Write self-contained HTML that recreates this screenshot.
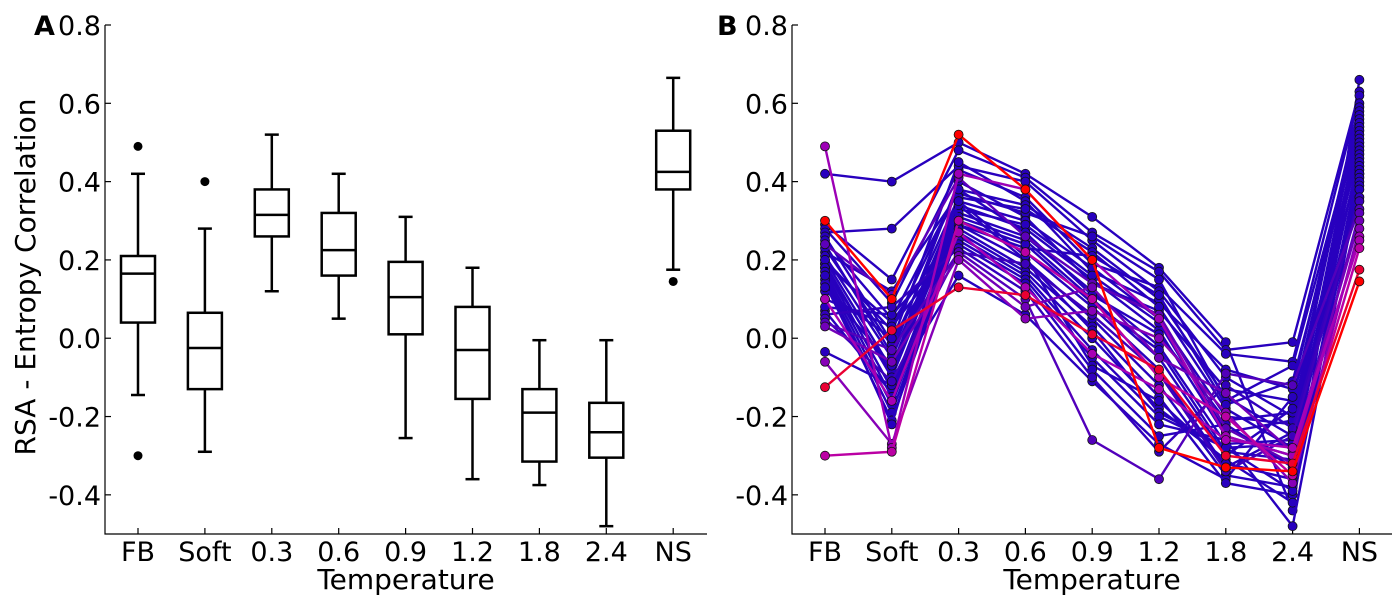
<!DOCTYPE html>
<html><head><meta charset="utf-8"><style>
html,body{margin:0;padding:0;background:#fff;}
svg{display:block;font-family:"DejaVu Sans","Liberation Sans",sans-serif;}
</style></head><body>
<svg id="chart" width="1400" height="600" viewBox="0 0 1400 600" xmlns="http://www.w3.org/2000/svg"></svg>
<script>
const categories = ["FB","Soft","0.3","0.6","0.9","1.2","1.8","2.4","NS"];
const yTicks = [0.8,0.6,0.4,0.2,0.0,-0.2,-0.4];
const yTickLabels = ["0.8","0.6","0.4","0.2","0.0","-0.2","-0.4"];
const boxLow = [-0.145,-0.29,0.12,0.05,-0.255,-0.36,-0.375,-0.48,0.175];
const boxQ1 = [0.04,-0.13,0.26,0.16,0.01,-0.155,-0.315,-0.305,0.38];
const boxMed = [0.165,-0.025,0.315,0.225,0.105,-0.03,-0.19,-0.24,0.425];
const boxQ3 = [0.21,0.065,0.38,0.32,0.195,0.08,-0.13,-0.165,0.53];
const boxHigh = [0.42,0.28,0.52,0.42,0.31,0.18,-0.005,-0.005,0.665];
const outlierCat = [0,0,1,8];
const outlierVal = [0.49,-0.30,0.40,0.145];
const subjects = [
[0.42,0.40,0.50,0.42,0.31,0.18,-0.01,-0.44,0.66],
[0.49,-0.28,0.42,0.38,0.20,0.05,-0.25,-0.30,0.26],
[-0.30,-0.29,0.30,0.22,0.10,-0.10,-0.20,-0.35,0.23],
[0.30,0.10,0.52,0.38,0.20,-0.28,-0.33,-0.34,0.145],
[-0.125,0.02,0.13,0.11,0.01,-0.08,-0.30,-0.32,0.175],
[0.29,0.15,0.48,0.41,0.27,0.17,-0.03,-0.01,0.63],
[0.27,0.28,0.44,0.40,0.25,0.12,-0.10,-0.20,0.60],
[0.25,0.05,0.38,0.34,0.23,0.10,-0.15,-0.25,0.58],
[0.23,-0.02,0.36,0.33,0.22,0.08,-0.18,-0.28,0.55],
[0.21,-0.05,0.35,0.30,0.18,0.05,-0.20,-0.22,0.53],
[0.20,-0.08,0.34,0.28,0.15,0.02,-0.25,-0.30,0.52],
[0.19,-0.10,0.32,0.26,0.12,-0.02,-0.27,-0.26,0.50],
[0.18,-0.13,0.31,0.25,0.10,-0.05,-0.30,-0.18,0.48],
[0.17,-0.15,0.30,0.22,0.08,-0.08,-0.33,-0.24,0.46],
[0.16,-0.17,0.29,0.20,0.05,-0.12,-0.35,-0.38,0.45],
[0.15,-0.19,0.28,0.18,0.03,-0.15,-0.37,-0.40,0.43],
[0.14,-0.21,0.27,0.17,0.00,-0.18,-0.31,-0.42,0.42],
[0.12,0.00,0.26,0.16,-0.03,-0.20,-0.28,-0.27,0.41],
[0.10,0.03,0.25,0.15,-0.05,-0.22,-0.26,-0.48,0.40],
[0.08,0.06,0.24,0.14,-0.08,-0.25,-0.22,-0.33,0.38],
[0.06,0.08,0.23,0.12,-0.10,-0.29,-0.12,-0.23,0.36],
[0.04,-0.03,0.22,0.10,-0.26,-0.36,-0.09,-0.12,0.33],
[0.03,-0.06,0.21,0.08,0.13,-0.05,-0.14,-0.29,0.30],
[-0.035,-0.12,0.16,0.06,-0.11,-0.27,-0.36,-0.15,0.44],
[-0.06,-0.27,0.20,0.05,0.07,0.00,-0.19,-0.37,0.28],
[0.22,0.12,0.37,0.32,0.26,0.15,-0.16,-0.07,0.56],
[0.28,0.09,0.43,0.36,0.19,0.13,-0.04,-0.06,0.62],
[0.26,-0.01,0.45,0.35,0.17,0.09,-0.08,-0.13,0.59],
[0.24,-0.04,0.40,0.31,0.14,0.07,-0.13,-0.16,0.57],
[0.18,-0.09,0.33,0.29,0.16,0.04,-0.24,-0.21,0.51],
[0.20,0.02,0.38,0.27,0.11,0.01,-0.21,-0.19,0.49],
[0.07,-0.14,0.30,0.24,0.09,-0.03,-0.29,-0.31,0.47],
[0.13,-0.07,0.35,0.21,-0.07,-0.16,-0.32,-0.36,0.39],
[0.05,-0.11,0.22,0.19,0.06,-0.09,-0.34,-0.25,0.35],
[0.19,0.04,0.29,0.23,0.21,0.11,-0.17,-0.11,0.54],
[0.10,-0.16,0.27,0.13,-0.04,-0.13,-0.26,-0.28,0.25],
[0.24,0.11,0.41,0.26,0.14,0.06,-0.23,-0.32,0.32],
[0.16,-0.22,0.34,0.20,0.02,-0.19,-0.28,-0.39,0.42]
];

const NS="http://www.w3.org/2000/svg";
const svg=document.getElementById('chart');
function mk(tag,attrs,parent,text){const e=document.createElementNS(NS,tag);for(const k in attrs)e.setAttribute(k,attrs[k]);if(text!==undefined)e.textContent=text;(parent||svg).appendChild(e);return e;}
const yTop=25,yBot=534,vTop=0.8,vBot=-0.5;
function yS(v){return yTop+(vTop-v)/(vTop-vBot)*(yBot-yTop);}
const panels=[{x0:105,x1:707,first:138,step:66.9,letter:"A",id:"a",lx:34},{x0:792,x1:1392,first:825,step:66.8,letter:"B",id:"b",lx:717}];
function xS(p,i){return p.first+i*p.step;}

panels.forEach(p=>{
  const g=mk('g',{});
  
  
  const ax=mk('path',{d:`M${p.x0},${yTop}V${yBot}H${p.x1}`,fill:'none',stroke:'#000','stroke-width':1.2},g);
  
  
  yTicks.forEach((v,i)=>{
    const y=yS(v);
    const t=mk('line',{x1:p.x0,x2:p.x0+6,y1:y,y2:y,stroke:'#000','stroke-width':1.2},g);
    
    
    const l=mk('text',{x:p.x0-4,y:y+10,'text-anchor':'end','font-size':27},g,yTickLabels[i]);
    
    
  });
  categories.forEach((c,i)=>{
    const x=xS(p,i);
    const t=mk('line',{x1:x,x2:x,y1:yBot,y2:yBot-6,stroke:'#000','stroke-width':1.2},g);
    
    
    const l=mk('text',{x:x,y:561,'text-anchor':'middle','font-size':27},g,c);
    
    
  });
  const xt=mk('text',{x:(p.x0+p.x1)/2,y:589,'text-anchor':'middle','font-size':28},g,'Temperature');
  
  
  const lt=mk('text',{x:p.lx,y:35,'font-size':27,'font-weight':'bold'},g,p.letter);
  
  
});

const yt=mk('text',{x:0,y:0,'text-anchor':'middle','font-size':28,transform:`translate(35,277) rotate(-90)`},svg,'RSA - Entropy Correlation');



const pA=panels[0];
categories.forEach((c,i)=>{
  const x=xS(pA,i),w=34,cap=14;
  const g=mk('g',{stroke:'#000','stroke-width':2.5,fill:'none'});
  
  
  mk('rect',{x:x-w/2,y:yS(boxQ3[i]),width:w,height:yS(boxQ1[i])-yS(boxQ3[i])},g);
  mk('line',{x1:x-w/2,x2:x+w/2,y1:yS(boxMed[i]),y2:yS(boxMed[i])},g);
  mk('line',{x1:x,x2:x,y1:yS(boxQ3[i]),y2:yS(boxHigh[i])},g);
  mk('line',{x1:x,x2:x,y1:yS(boxQ1[i]),y2:yS(boxLow[i])},g);
  mk('line',{x1:x-cap/2,x2:x+cap/2,y1:yS(boxHigh[i]),y2:yS(boxHigh[i])},g);
  mk('line',{x1:x-cap/2,x2:x+cap/2,y1:yS(boxLow[i]),y2:yS(boxLow[i])},g);
});
outlierCat.forEach((ci,k)=>{
  const o=mk('circle',{cx:xS(pA,ci),cy:yS(outlierVal[k]),r:4.5,fill:'#000'});
  
  
});

const pB=panels[1];
function colorFor(ns){
  const t=Math.max(0,Math.min(1,(ns-0.15)/0.22));
  let r,b;
  if(t<0.4){const u=t/0.4;r=255-75*u;b=180*u;}
  else{const u=(t-0.4)/0.6;r=180-140*u;b=180+10*u;}
  return `rgb(${Math.round(r)},0,${Math.round(b)})`;
}
const order=subjects.map((s,i)=>i).sort((a,b)=>subjects[b][8]-subjects[a][8]);
order.forEach(si=>{
  const s=subjects[si];const col=colorFor(s[8]);
  const g=mk('g',{});
  
  
  mk('polyline',{points:s.map((v,i)=>xS(pB,i)+','+yS(v)).join(' '),fill:'none',stroke:col,'stroke-width':2.4},g);
  s.forEach((v,i)=>{
    mk('circle',{cx:xS(pB,i),cy:yS(v),r:4.5,fill:col,stroke:'#111','stroke-width':0.8},g);
  });
});
</script>
</body></html>
